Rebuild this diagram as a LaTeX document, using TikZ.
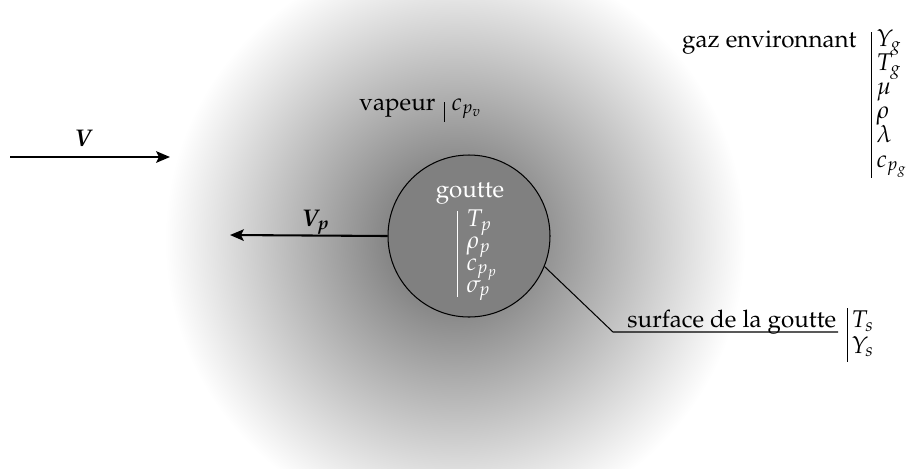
\documentclass[tikz,border=0pt]{standalone}
\usepackage[T1]{fontenc}
\usepackage{mathpazo}
\usepackage{bm}
\usetikzlibrary{arrows.meta}
\pgfdeclareradialshading{glow}{\pgfpoint{0bp}{0bp}}{color(0bp)=(black!62); color(12.1bp)=(white); color(50bp)=(white)}
\newcommand\tightlines{\lineskiplimit=-20pt\relax\lineskip=0pt\relax}
\tikzset{
  arr/.style={line width=0.9pt, -{Stealth[length=6pt,width=5pt,inset=1.2pt]}},
  thin line/.style={line width=0.45pt},
  barline/.style={line width=0.4pt},
  lbl/.style={inner sep=0pt, font=\fontsize{10.5}{12}\selectfont},
  stack/.style={inner sep=0pt, align=left, anchor=base west,
    font=\fontsize{10.5}{#1}\selectfont\tightlines},
}
\begin{document}
\begin{tikzpicture}[x=0.4348pt,y=-0.4348pt]
\useasboundingbox (0,0) rectangle (906,468);
\clip (0,0) rectangle (906,468);
\fill[shading=glow] (455,240) circle[radius=600];
% droplet
\fill[black!50] (469,236) circle[radius=81];
\draw[thin line] (469,236) circle[radius=81];
\node[circle, minimum size=70.4pt, inner sep=0pt] (goutte) at (469,236) {};
\node[lbl, text=white, anchor=base] (gt) at (470,197) {goutte};
% base anchor = baseline of the last line
\node[stack=9.45pt, text=white] (gtlist) at (466,292)
  {$T_p$\\ $\rho_p$\\ $c_{p_p}$\\ $\sigma_p$};
\coordinate (gb1) at (457,211);
\coordinate (gb2) at (457,297);
\draw[barline, white] (gb1) -- (gb2);
% vapour
\node[lbl, anchor=base west] (vap) at (359,110) {vapeur};
\node[lbl, anchor=base west] (vaplist) at (451,110) {$c_{p_v}$};
\coordinate (vb1) at (444,102);
\coordinate (vb2) at (444,122);
\draw[barline] (vb1) -- (vb2);
% surroundings
\node[lbl, anchor=base east] (gaz) at (857,47) {gaz environnant};
\node[stack=10.45pt] (gazlist) at (876,167)
  {$Y_g$\\ $T_g$\\ $\mu$\\ $\rho$\\ $\lambda$\\ $c_{p_g}$};
\coordinate (zb1) at (871,32);
\coordinate (zb2) at (871,178);
\draw[barline] (zb1) -- (zb2);
% surface
\node[lbl, anchor=base west] (surf) at (627,327) {surface de la goutte};
\node[stack=10.9pt] (surflist) at (851,353) {$T_s$\\ $Y_s$};
\coordinate (sb1) at (847,308);
\coordinate (sb2) at (847,362);
\draw[barline] (sb1) -- (sb2);
\coordinate (knee) at (613,332);
\coordinate (surfend) at (838,332);
\draw[thin line] (goutte.-22) -- (knee) -- (surfend);
% velocities
\coordinate (v1) at (10,157);
\coordinate (v2) at (170,157);
\draw[arr] (v1) -- (v2);
\node[lbl, anchor=base] (vlab) at (84,146) {$\bm{V}$};
\coordinate (vp2) at (230,235);
\draw[arr] (goutte.west) -- (vp2);
\node[lbl, anchor=base] (vplab) at (316,226) {$\bm{V_p}$};
\end{tikzpicture}
\end{document}
